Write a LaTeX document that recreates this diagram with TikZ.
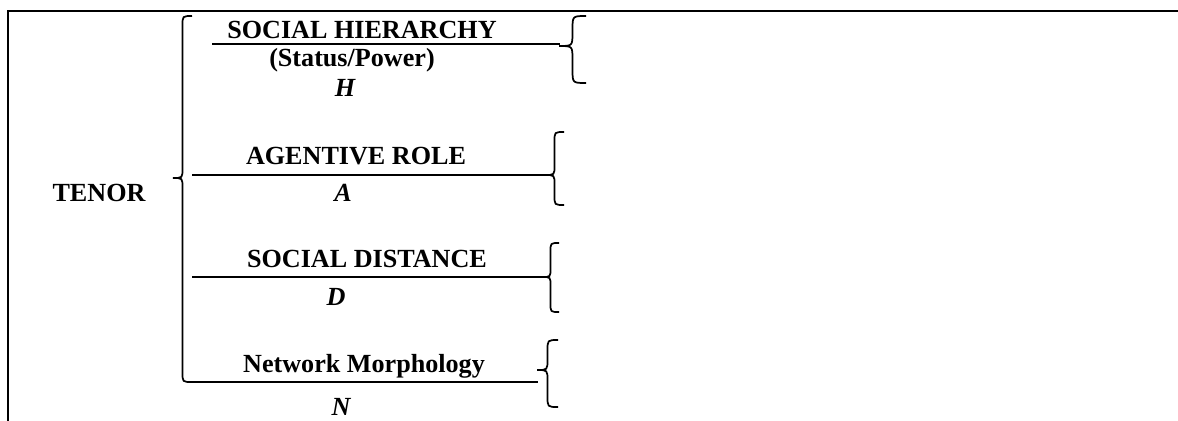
\documentclass[tikz,border=0pt]{standalone}
\usepackage{fontspec}
\setmainfont{Liberation Serif}
% left curly brace: tip x, tip y, top y, bottom y, width
\newcommand{\drawlbrace}[5]{%
  \draw[bracket]
    ({#1+#5},#3) .. controls ({#1+#5/2},#3) .. ({#1+#5/2},{#3+#5/2})
    -- ({#1+#5/2},{#2-#5/2}) .. controls ({#1+#5/2},#2) .. (#1,#2)
    .. controls ({#1+#5/2},#2) .. ({#1+#5/2},{#2+#5/2})
    -- ({#1+#5/2},{#4-#5/2}) .. controls ({#1+#5/2},#4) .. ({#1+#5},#4);}
\begin{document}
\begin{tikzpicture}[x=0.75pt,y=-0.75pt,
  txt/.style={font=\fontsize{19.6}{22}\selectfont\bfseries, inner sep=0pt, anchor=base},
  var/.style={font=\fontsize{19.6}{22}\selectfont\bfseries\itshape, inner sep=0pt, anchor=base},
  rule/.style={line width=1.3pt},
  bracket/.style={line width=1.3pt},
  frame/.style={line width=2.2pt}]
\useasboundingbox (0,0) rectangle (1178,421);

% frame (top and left edges only)
\draw[frame] (8,421) -- (8,11) -- (1178,11);

% main label
\node[txt] (tenor) at (99,201) {TENOR};

% headings, rules and variables
\node[txt] (hier)   at (362,38)  {SOCIAL HIERARCHY};
\node[txt] (status) at (352,66)  {(Status/Power)};
\node[var] (H)      at (345,96)  {H};
\node[txt] (agent)  at (356,164) {AGENTIVE ROLE};
\node[var] (A)      at (343,201) {A};
\node[txt] (dist)   at (367,267) {SOCIAL DISTANCE};
\node[var] (D)      at (336,305) {D};
\node[txt] (net)    at (364,372) {Network Morphology};
\node[var] (N)      at (341,415) {N};

\coordinate (h1) at (212,44);  \coordinate (h2) at (560,44);
\coordinate (a1) at (192,175); \coordinate (a2) at (545,175);
\coordinate (d1) at (192,277); \coordinate (d2) at (542,277);
\coordinate (n1) at (192,382); \coordinate (n2) at (538,382);
\draw[rule] (h1) -- (h2);
\draw[rule] (a1) -- (a2);
\draw[rule] (d1) -- (d2);
\draw[rule] (n1) -- (n2);

% big brace grouping the four dimensions
\drawlbrace{173}{178}{16}{382}{19}

% open braces after each rule
\drawlbrace{559}{46}{16}{83}{27}
\drawlbrace{545}{175}{132}{205}{19}
\drawlbrace{542}{277}{243}{312}{17}
\drawlbrace{537}{370}{340}{407}{21}
\end{tikzpicture}
\end{document}
